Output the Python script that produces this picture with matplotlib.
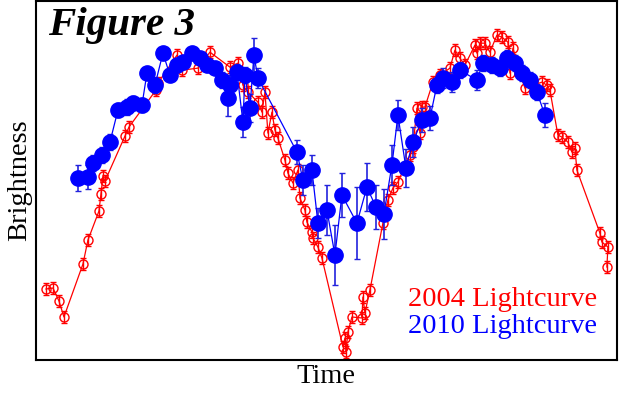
import numpy as np
import matplotlib
matplotlib.use('Agg')
import matplotlib.pyplot as plt

plt.rcParams['font.family'] = ['Liberation Serif', 'DejaVu Serif']

# 2004 lightcurve (red, open circles)
t2004 = [46, 53, 59, 64, 83, 88, 99, 101, 103, 105, 125, 129, 156, 158, 177, 182,
         198, 210, 230, 238, 243, 248, 258, 262, 265, 268, 272, 275, 278, 285, 288,
         293, 298, 300, 305, 307, 312, 313, 318, 322, 343, 345, 346, 348, 352, 362,
         363, 365, 370, 383, 388, 393, 398, 410, 413, 417, 420, 422, 425, 433, 440,
         450, 455, 460, 465, 475, 477, 480, 485, 490, 497, 502, 508, 510, 513, 525,
         542, 547, 550, 558, 562, 568, 572, 575, 577, 600, 602, 608, 607]
b2004 = [71, 72, 59, 43, 96, 120, 149, 166, 184, 179, 224, 233, 270, 277, 305, 290,
         292, 308, 293, 297, 275, 268, 258, 248, 268, 227, 248, 230, 222, 200, 187,
         177, 190, 162, 150, 138, 128, 122, 113, 102, 13, 22, 8, 28, 43, 42,
         63, 47, 70, 137, 160, 172, 178, 205, 213, 252, 227, 253, 253, 278, 285,
         292, 310, 302, 295, 315, 307, 317, 317, 308, 325, 323, 318, 287, 312, 272,
         278, 275, 270, 225, 223, 218, 208, 212, 190, 127, 118, 113, 93]
e2004 = [6] * len(t2004)

# 2010 lightcurve (blue, filled circles)
t2010 = [78, 88, 93, 102, 110, 118, 127, 133, 142, 147, 155, 163, 170, 177, 183,
         192, 200, 207, 215, 222, 228, 230, 237, 243, 245, 250, 254, 258, 297, 303,
         312, 318, 327, 335, 342, 357, 367, 376, 384, 392, 398, 406, 413, 422, 430,
         437, 443, 452, 460, 477, 483, 492, 500, 507, 515, 522, 530, 537, 545]
b2010 = [182, 183, 197, 205, 218, 250, 253, 257, 255, 287, 275, 307, 285, 295, 298,
         307, 302, 295, 292, 280, 262, 275, 288, 238, 285, 252, 305, 282, 208, 180,
         190, 137, 150, 105, 165, 137, 173, 153, 146, 195, 245, 192, 218, 240, 242,
         275, 282, 278, 290, 280, 297, 295, 292, 302, 297, 287, 280, 268, 245]
e2010 = [13, 12, 8, 8, 8, 7, 8, 7, 7, 6, 8, 6, 6, 6, 6,
         6, 6, 6, 6, 8, 18, 10, 8, 15, 8, 14, 17, 10, 12, 15,
         15, 15, 25, 30, 22, 36, 24, 22, 25, 20, 15, 19, 15, 12, 12,
         8, 10, 10, 8, 10, 8, 8, 8, 8, 8, 8, 8, 8, 12]

fig = plt.figure(figsize=(6.2, 3.96), dpi=100)
ax = fig.add_axes([0.058, 0.091, 0.937, 0.906])

ax.errorbar(t2004, b2004, yerr=e2004, color='red', lw=0.9, marker='o', ms=6.5,
            mfc='none', mec='red', mew=1.0, elinewidth=1.0, capsize=2, zorder=2)
ax.errorbar(t2010, b2010, yerr=e2010, color='blue', lw=0.9, marker='o', ms=11,
            mfc='blue', mec='blue', elinewidth=1.2, capsize=2.5, ecolor='#2222dd',
            zorder=3)

ax.set_xlim(36, 617)
ax.set_ylim(0, 359)
ax.set_xticks([])
ax.set_yticks([])
for s in ax.spines.values():
    s.set_linewidth(1.5)

ax.text(0.021, 0.905, 'Figure 3', transform=ax.transAxes, fontsize=29.5,
        fontweight='bold', fontstyle='italic', va='baseline', ha='left')
ax.text(0.966, 0.150, '2004 Lightcurve', transform=ax.transAxes, color='red',
        fontsize=20.5, ha='right', va='baseline')
ax.text(0.966, 0.075, '2010 Lightcurve', transform=ax.transAxes, color='blue',
        fontsize=20.5, ha='right', va='baseline')

ax.set_xlabel('Time', fontsize=20.5, labelpad=3)
ax.set_ylabel('Brightness', fontsize=20.5, labelpad=3)

fig.savefig('out.png', dpi=100)
